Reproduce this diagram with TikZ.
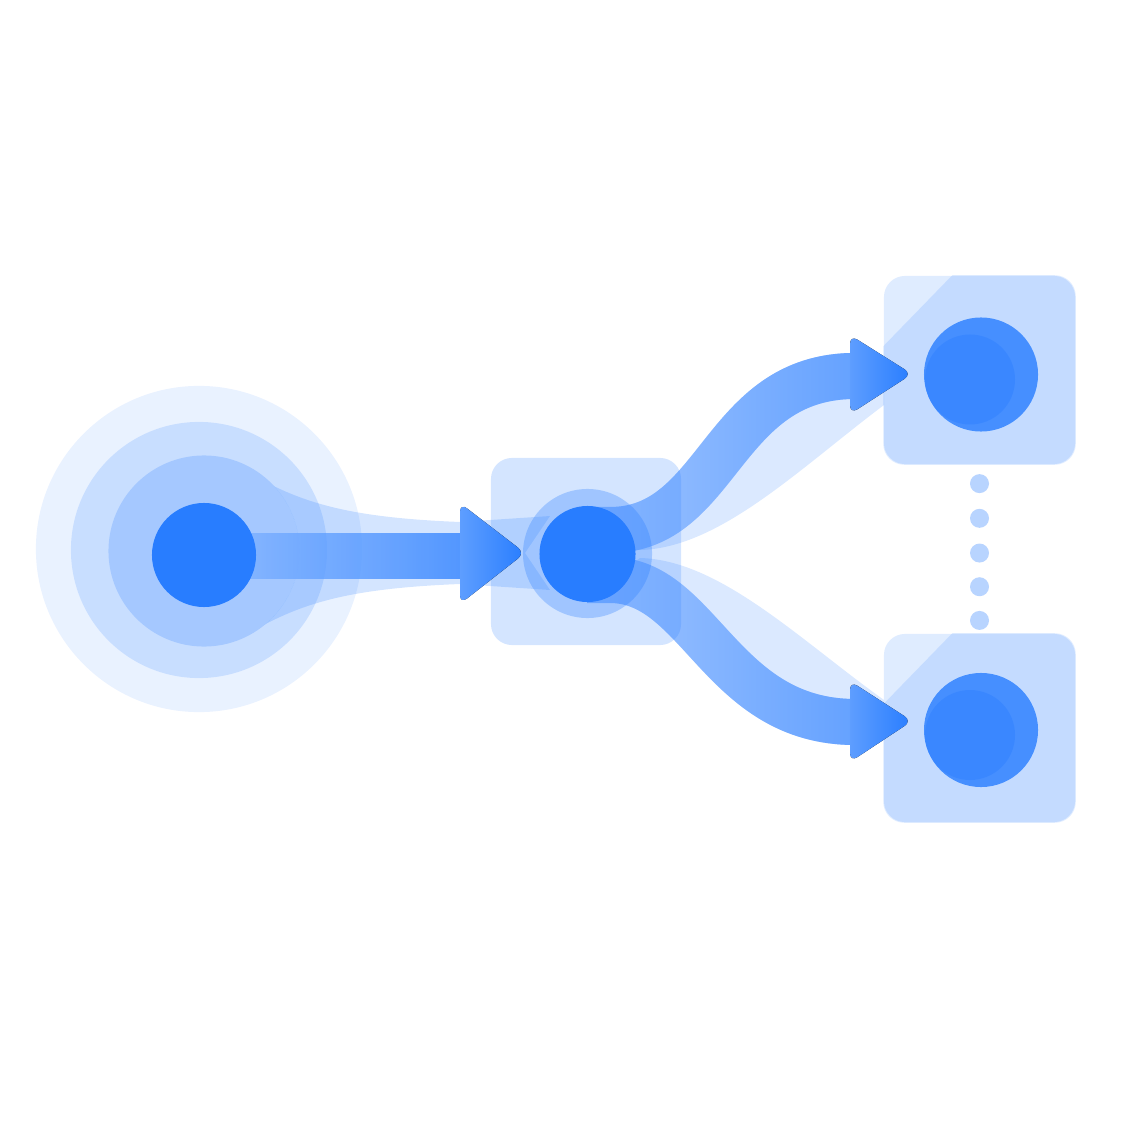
\documentclass[tikz,border=0pt]{standalone}
\usetikzlibrary{positioning,fadings}
\definecolor{flowblue}{RGB}{40,125,255}

\begin{document}
\begin{tikzpicture}[x=0.01cm, y=-0.01cm,
    halo/.style={circle, inner sep=0pt, fill=flowblue, fill opacity=#1},
    dot/.style={circle, inner sep=0pt, fill=flowblue},
    pane/.style={rectangle, rounded corners=.21cm, inner sep=0pt, fill=flowblue, fill opacity=#1},
    gapdot/.style={circle, inner sep=0pt, minimum size=.19cm, fill=flowblue, fill opacity=.33},
    head/.style={rounded corners=2.5pt, left color=flowblue!75!white, right color=flowblue},
    band/.style={line width=.46cm, line cap=butt},
  ]
  \useasboundingbox (0,0) rectangle (1122,1122);

  % source and its rings
  \node[halo=.1,  minimum size=3.26cm] (srcout) at (199,549) {};
  \node[halo=.17, minimum size=2.56cm] (srcmid) at (199,550) {};
  \node[halo=.22, minimum size=1.91cm] (srcin)  at (204,551) {};

  % soft wedge behind the first arrow
  \begin{scope}[even odd rule]
    \clip (0,0) rectangle (1122,1122) (srcin.center) circle (95.5);
    \fill[flowblue, fill opacity=.2] (262,480) .. controls (310,506) and (360,518) .. (460,522)
      -- (550,516) -- (525,553) -- (550,590)
      -- (460,584) .. controls (360,588) and (310,600) .. (262,626) -- cycle;
  \end{scope}

  % first arrow
  \coordinate (tipA) at (525,553);
  \shade[left color=flowblue!55!white, right color=flowblue, fill opacity=.75]
    (204,533) rectangle ([xshift=-.63cm,yshift=-.25cm]tipA);
  \node[dot, minimum size=1.04cm] (src) at (204,555) {};

  % branches
  \coordinate (hubB) at (587,530);
  \coordinate (outA) at (610,530);
  \coordinate (baseB) at (855,376);
  \coordinate (hubC) at (587,580);
  \coordinate (outC) at (610,580);
  \coordinate (baseC) at (855,722);
  \fill[flowblue!17!white] (640,550) .. controls (720,548) and (800,468) .. (884,405)
    -- (884,376) -- (baseB) .. controls +(-135,0) and +(110,0) .. (outA) -- cycle;
  \fill[flowblue!17!white] (640,558) .. controls (720,560) and (800,640) .. (884,700)
    -- (884,722) -- (baseC) .. controls +(-135,0) and +(90,0) .. (outC) -- cycle;
  \draw[band, flowblue!42!white] (hubB) -- (outA) .. controls +(110,0) and +(-135,0) .. (baseB);
  \draw[band, flowblue!74!white, path fading=west] (hubB) -- (outA) .. controls +(110,0) and +(-135,0) .. (baseB);
  \draw[band, flowblue!42!white] (hubC) -- (outC) .. controls +(90,0) and +(-135,0) .. (baseC);
  \draw[band, flowblue!74!white, path fading=west] (hubC) -- (outC) .. controls +(90,0) and +(-135,0) .. (baseC);

  % hub
  \node[pane=.2, minimum width=1.9cm, minimum height=1.87cm] (mid) at (586,551.5) {};
  \node[halo=.3, minimum size=1.29cm] (midring) at (587.5,553.5) {};
  \node[dot, minimum size=.96cm] (hub) at (587.5,554) {};
  \fill[head] (tipA) -- ++(-65,-50) -- ++(0,101) -- cycle;

  % targets
  \foreach \n/\y/\d in {top/370/374.5, bot/728/730} {
    \node[pane=.15, minimum width=1.91cm, minimum height=1.88cm] (\n) at (979.5,\y) {};
    \begin{scope}
      \clip[rounded corners=.21cm] (\n.north west) rectangle (\n.south east);
      \fill[flowblue, fill opacity=.15] ([xshift=.69cm]\n.north west) -- (\n.north east)
        -- (\n.south east) -- (\n.south west) -- ([yshift=-.71cm]\n.north west) -- cycle;
    \end{scope}
    \node[dot, fill=flowblue!86!white, minimum size=1.14cm] (\n dot) at (981,\d) {};
    \fill[flowblue, fill opacity=.4] (970,\d+5) circle (45);
  }
  \coordinate (tipB) at (912,374);
  \fill[head] (tipB) -- ++(-62,-39) -- ++(0,79) -- cycle;
  \coordinate (tipC) at (912,721);
  \fill[head] (tipC) -- ++(-62,-40) -- ++(0,81) -- cycle;

  % dotted link between targets
  \foreach \p in {.112,.318,.524,.724,.924}
    \path (top.south) -- (bot.north) node[gapdot, pos=\p] {};
\end{tikzpicture}
\end{document}
